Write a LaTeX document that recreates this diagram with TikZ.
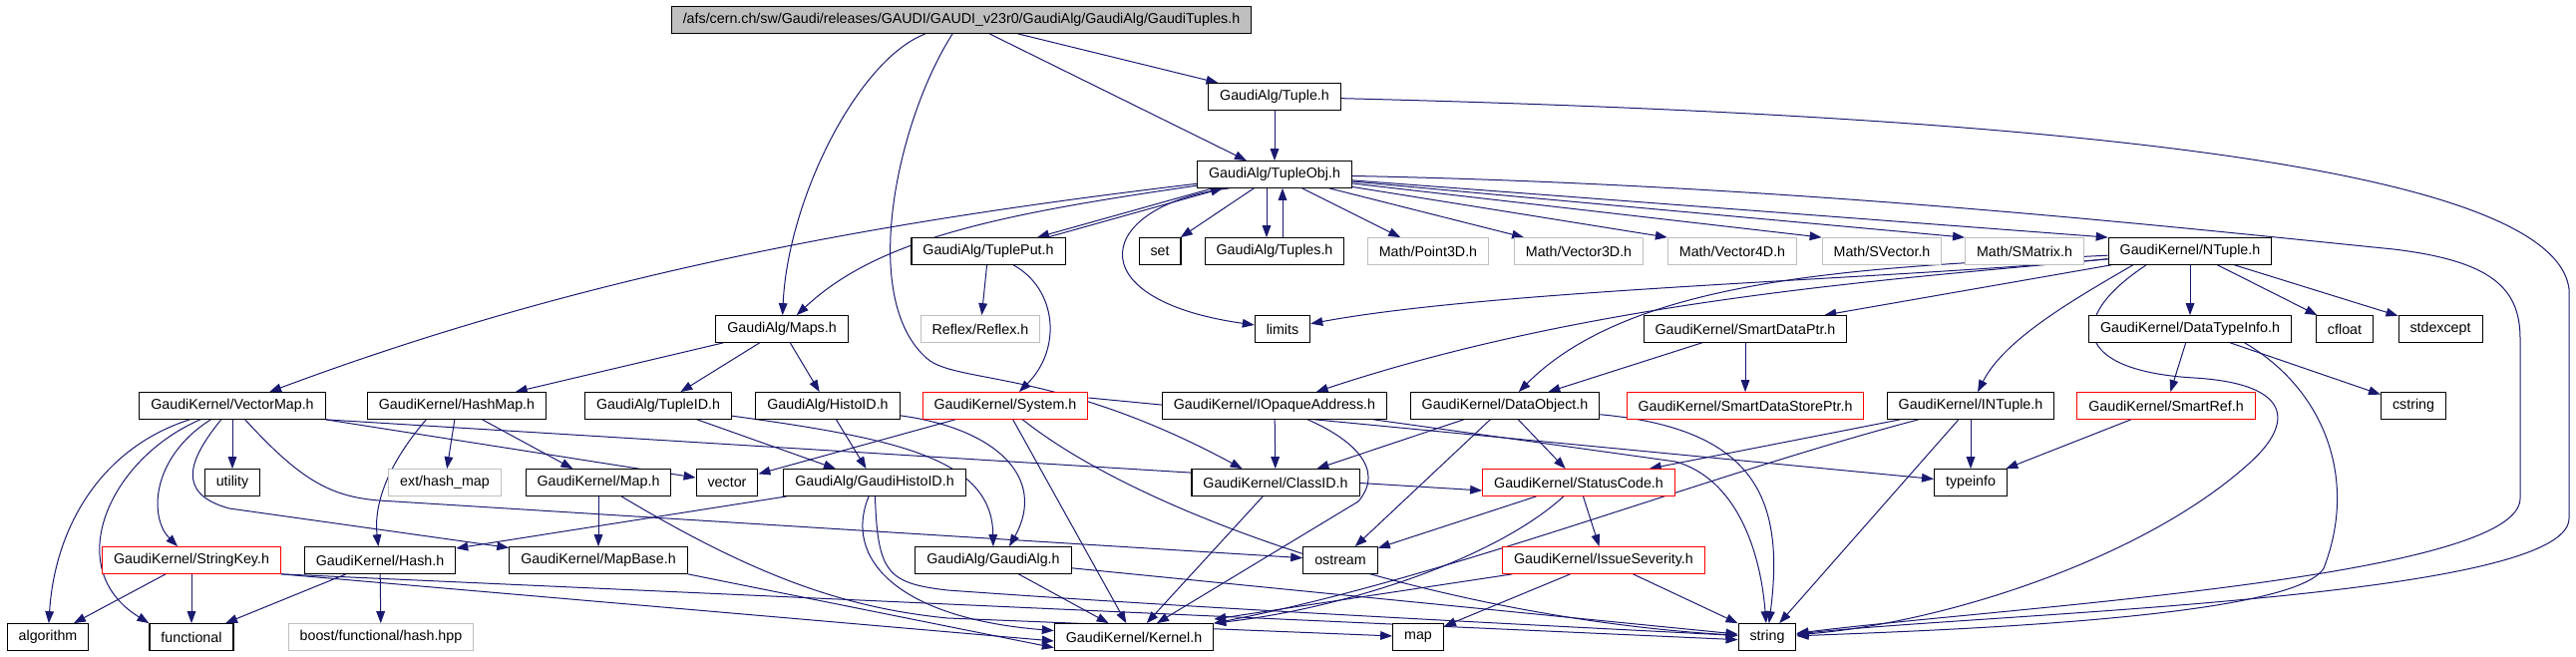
\documentclass[tikz,border=0pt]{standalone}
\usepackage{fontspec}
\setmainfont{Liberation Sans}
\usepackage{tikz}
\usetikzlibrary{arrows.meta}
\definecolor{edgeblue}{HTML}{191970}
\definecolor{extgray}{HTML}{BFBFBF}
\pgfdeclarelayer{edges}
\pgfsetlayers{edges,main}

\begin{document}
\begin{tikzpicture}[x=0.75pt,y=0.75pt,yscale=-1,
	inc/.style={draw=black,line width=0.8pt,fill=white,inner xsep=8.6pt,inner ysep=0pt,minimum height=20pt,font=\fontsize{10.7}{12}\selectfont},
	incred/.style={inc,draw=red},
	incext/.style={inc,draw=extgray},
	incroot/.style={inc,fill=extgray},
	edge/.style={draw=edgeblue,line width=0.75pt,-{Triangle[length=9pt,width=6.5pt]}}]
	%set diagram size: 2583 x 659
	\useasboundingbox (0,0) rectangle (2583,659);
	
	% Text Node
	\draw (964,20) node [incroot] (root) {/afs/cern.ch/sw/Gaudi/releases/GAUDI/GAUDI\_v23r0/GaudiAlg/GaudiAlg/GaudiTuples.h};
	% Text Node
	\draw (1278,97) node [inc] (tuple) {GaudiAlg/Tuple.h};
	% Text Node
	\draw (1278,175) node [inc] (tupleobj) {GaudiAlg/TupleObj.h};
	% Text Node
	\draw (991,252) node [inc] (tupleput) {GaudiAlg/TuplePut.h};
	% Text Node
	\draw (1163,252) node [inc] (set) {set};
	% Text Node
	\draw (1278,252) node [inc] (tuples) {GaudiAlg/Tuples.h};
	% Text Node
	\draw (1432,252) node [incext] (point3d) {Math/Point3D.h};
	% Text Node
	\draw (1583,252) node [incext] (vector3d) {Math/Vector3D.h};
	% Text Node
	\draw (1737,252) node [incext] (vector4d) {Math/Vector4D.h};
	% Text Node
	\draw (1887,252) node [incext] (svector) {Math/SVector.h};
	% Text Node
	\draw (2030,252) node [incext] (smatrix) {Math/SMatrix.h};
	% Text Node
	\draw (2196,252) node [inc] (ntuple) {GaudiKernel/NTuple.h};
	% Text Node
	\draw (784,330) node [inc] (maps) {GaudiAlg/Maps.h};
	% Text Node
	\draw (983,330) node [incext] (reflex) {Reflex/Reflex.h};
	% Text Node
	\draw (1286,330) node [inc] (limits) {limits};
	% Text Node
	\draw (1750,330) node [inc] (smartdataptr) {GaudiKernel/SmartDataPtr.h};
	% Text Node
	\draw (2196,330) node [inc] (datatypeinfo) {GaudiKernel/DataTypeInfo.h};
	% Text Node
	\draw (2351,330) node [inc] (cfloat) {cfloat};
	% Text Node
	\draw (2447,330) node [inc] (stdexcept) {stdexcept};
	% Text Node
	\draw (233,407) node [inc] (vectormap) {GaudiKernel/VectorMap.h};
	% Text Node
	\draw (458,407) node [inc] (hashmap) {GaudiKernel/HashMap.h};
	% Text Node
	\draw (660,407) node [inc] (tupleid) {GaudiAlg/TupleID.h};
	% Text Node
	\draw (830,407) node [inc] (histoid) {GaudiAlg/HistoID.h};
	% Text Node
	\draw (1008,407) node [incred] (system) {GaudiKernel/System.h};
	% Text Node
	\draw (1278,407) node [inc] (iopaque) {GaudiKernel/IOpaqueAddress.h};
	% Text Node
	\draw (1509,407) node [inc] (dataobject) {GaudiKernel/DataObject.h};
	% Text Node
	\draw (1750,407) node [incred] (smartdatastoreptr) {GaudiKernel/SmartDataStorePtr.h};
	% Text Node
	\draw (1976,407) node [inc] (intuple) {GaudiKernel/INTuple.h};
	% Text Node
	\draw (2172,407) node [incred] (smartref) {GaudiKernel/SmartRef.h};
	% Text Node
	\draw (2420,407) node [inc] (cstring) {cstring};
	% Text Node
	\draw (233,484) node [inc] (utility) {utility};
	% Text Node
	\draw (446,484) node [incext] (hashmapext) {ext/hash\_map};
	% Text Node
	\draw (600,484) node [inc] (map) {GaudiKernel/Map.h};
	% Text Node
	\draw (729,484) node [inc] (vector) {vector};
	% Text Node
	\draw (877,484) node [inc] (gaudihistoid) {GaudiAlg/GaudiHistoID.h};
	% Text Node
	\draw (1279,484) node [inc] (classid) {GaudiKernel/ClassID.h};
	% Text Node
	\draw (1583,484) node [incred] (statuscode) {GaudiKernel/StatusCode.h};
	% Text Node
	\draw (1976,484) node [inc] (typeinfo) {typeinfo};
	% Text Node
	\draw (192,562) node [incred] (stringkey) {GaudiKernel/StringKey.h};
	% Text Node
	\draw (381,562) node [inc] (hash) {GaudiKernel/Hash.h};
	% Text Node
	\draw (600,562) node [inc] (mapbase) {GaudiKernel/MapBase.h};
	% Text Node
	\draw (996,562) node [inc] (gaudialg) {GaudiAlg/GaudiAlg.h};
	% Text Node
	\draw (1344,562) node [inc] (ostream) {ostream};
	% Text Node
	\draw (1608,562) node [incred] (issueseverity) {GaudiKernel/IssueSeverity.h};
	% Text Node
	\draw (48,639) node [inc] (algorithm) {algorithm};
	% Text Node
	\draw (192,639) node [inc] (functional) {functional};
	% Text Node
	\draw (382,639) node [incext] (boosthash) {boost/functional/hash.hpp};
	% Text Node
	\draw (1137,639) node [inc] (kernel) {GaudiKernel/Kernel.h};
	% Text Node
	\draw (1422,639) node [inc] (stdmap) {map};
	% Text Node
	\draw (1772,639) node [inc] (string) {string};
	
	\begin{pgfonlayer}{edges}
	%Curve Lines
	\draw [edge] (root) .. controls (860,60) and (790,200) .. (maps);
	%Curve Lines
	\draw [edge] (root) .. controls (900,120) and (860,300) .. (930,360) .. controls (960,385) and (1060,370) .. ([xshift=-25pt]classid.north);
	%Straight Lines
	\draw [edge] (root) -- (tupleobj);
	%Straight Lines
	\draw [edge] (root) -- (tuple);
	%Straight Lines
	\draw [edge] (tuple) -- (tupleobj);
	%Curve Lines
	\draw [edge] (tuple) .. controls (2000,115) and (2560,160) .. (2576,290) -- (2576,520) .. controls (2576,600) and (2000,615) .. (string);
	%Curve Lines
	\draw [edge] (tupleobj) .. controls (1800,185) and (2200,230) .. (2400,250) .. controls (2500,262) and (2527,290) .. (2527,340) -- (2527,500) .. controls (2527,580) and (2000,610) .. (string);
	%Straight Lines
	\draw [edge] ([xshift=12pt]tupleobj.south west) -- ([xshift=36.75pt]tupleput.north);
	%Straight Lines
	\draw [edge] ([xshift=44.25pt]tupleput.north) -- ([xshift=19.5pt]tupleobj.south west);
	%Straight Lines
	\draw [edge] (tupleobj) -- (set);
	%Straight Lines
	\draw [edge] ([xshift=-6pt]tupleobj.south) -- ([xshift=-6pt]tuples.north);
	%Straight Lines
	\draw [edge] ([xshift=6pt]tuples.north) -- ([xshift=6pt]tupleobj.south);
	%Straight Lines
	\draw [edge] (tupleobj) -- (point3d);
	%Straight Lines
	\draw [edge] (tupleobj) -- (vector3d);
	%Straight Lines
	\draw [edge] (tupleobj) -- (vector4d.north west);
	%Straight Lines
	\draw [edge] (tupleobj) -- (svector.north west);
	%Straight Lines
	\draw [edge] (tupleobj) -- (smatrix.north west);
	%Straight Lines
	\draw [edge] (tupleobj) -- (ntuple.north west);
	%Curve Lines
	\draw [edge] ([xshift=-34pt]tupleobj.south) .. controls (1100,205) and (1075,300) .. (limits);
	%Curve Lines
	\draw [edge] (tupleobj) .. controls (1000,215) and (880,240) .. (maps);
	%Curve Lines
	\draw [edge] (tupleobj) .. controls (900,220) and (600,270) .. (vectormap);
	
	%Straight Lines
	\draw [edge] (tupleput) -- (reflex);
	%Curve Lines
	\draw [edge] (tupleput) .. controls (1060,290) and (1065,350) .. (system);
	
	%Curve Lines
	\draw [edge] (ntuple) .. controls (1900,280) and (1500,290) .. (limits);
	%Curve Lines
	\draw [edge] (ntuple) .. controls (1900,280) and (1600,300) .. (iopaque);
	%Curve Lines
	\draw [edge] (ntuple) .. controls (1880,268) and (1640,275) .. (dataobject);
	%Straight Lines
	\draw [edge] (ntuple) -- (smartdataptr);
	%Curve Lines
	\draw [edge] ([xshift=-43pt]ntuple.south) .. controls (2080,300) and (2010,340) .. (intuple);
	%Curve Lines
	\draw [edge] ([xshift=-33pt]ntuple.south) .. controls (2070,320) and (2080,372) .. (2200,379) .. controls (2300,385) and (2300,425) .. (2255,465) .. controls (2150,560) and (1950,625) .. (string);
	%Straight Lines
	\draw [edge] (ntuple) -- (datatypeinfo);
	%Straight Lines
	\draw [edge] (ntuple) -- (cfloat);
	%Straight Lines
	\draw [edge] (ntuple) -- (stdexcept);
	
	%Straight Lines
	\draw [edge] (smartdataptr) -- (dataobject);
	%Straight Lines
	\draw [edge] (smartdataptr) -- (smartdatastoreptr);
	%Straight Lines
	\draw [edge] (datatypeinfo) -- (smartref);
	%Straight Lines
	\draw [edge] (datatypeinfo) -- (cstring);
	%Curve Lines
	\draw [edge] ([xshift=41pt]datatypeinfo.south) .. controls (2330,390) and (2365,480) .. (2330,570) .. controls (2300,620) and (1950,632) .. (string);
	%Straight Lines
	\draw [edge] (smartref) -- (typeinfo);
	
	%Straight Lines
	\draw [edge] (intuple) -- (typeinfo);
	%Straight Lines
	\draw [edge] (intuple) -- (statuscode);
	%Straight Lines
	\draw [edge] (intuple) -- (string);
	%Curve Lines
	\draw [edge] (intuple) .. controls (1700,480) and (1450,580) .. (kernel.north east);
	
	%Straight Lines
	\draw [edge] (dataobject) -- (classid);
	%Straight Lines
	\draw [edge] (dataobject) -- (statuscode);
	%Straight Lines
	\draw [edge] (dataobject) -- (ostream);
	%Curve Lines
	\draw [edge] (dataobject) .. controls (1760,430) and (1790,500) .. (string);
	
	%Straight Lines
	\draw [edge] (iopaque) -- (classid);
	%Curve Lines
	\draw [edge] ([xshift=25pt]iopaque.south) .. controls (1355,440) and (1390,470) .. (1362,503) -- (kernel);
	%Curve Lines
	\draw [edge] (iopaque) -- (1680,463) .. controls (1740,480) and (1765,550) .. (string);
	
	%Straight Lines
	\draw [edge] (classid) -- (kernel);
	%Straight Lines
	\draw [edge] (statuscode) -- (ostream);
	%Straight Lines
	\draw [edge] (statuscode) -- (issueseverity);
	%Curve Lines
	\draw [edge] (statuscode) .. controls (1500,560) and (1350,610) .. (kernel.north east);
	%Straight Lines
	\draw [edge] (issueseverity) -- ([yshift=-3pt]kernel.north east);
	%Straight Lines
	\draw [edge] (issueseverity) -- (stdmap);
	%Straight Lines
	\draw [edge] (issueseverity) -- (string);
	
	%Straight Lines
	\draw [edge] (system) -- (vector);
	%Straight Lines
	\draw [edge] (system) -- (kernel);
	%Curve Lines
	\draw [edge] (system) .. controls (1150,520) and (1450,620) .. (string);
	%Straight Lines
	\draw [edge] ([yshift=-6pt]system.east) -- (typeinfo);
	
	%Straight Lines
	\draw [edge] (gaudialg) -- (kernel);
	%Straight Lines
	\draw [edge] (gaudialg) -- (string);
	%Straight Lines
	\draw [edge] (gaudihistoid) -- (hash);
	%Curve Lines
	\draw [edge] (gaudihistoid) .. controls (845,560) and (900,620) .. (kernel);
	%Curve Lines
	\draw [edge] (gaudihistoid) .. controls (880,575) and (890,585) .. (950,592) .. controls (1200,610) and (1500,625) .. (string);
	
	%Straight Lines
	\draw [edge] (tupleid) -- (gaudihistoid);
	%Curve Lines
	\draw [edge] (tupleid) .. controls (900,440) and (995,460) .. (gaudialg);
	%Straight Lines
	\draw [edge] (histoid) -- (gaudihistoid);
	%Curve Lines
	\draw [edge] (histoid) .. controls (1000,430) and (1050,480) .. ([xshift=12pt]gaudialg.north);
	
	%Straight Lines
	\draw [edge] (maps) -- (hashmap);
	%Straight Lines
	\draw [edge] (maps) -- (tupleid);
	%Straight Lines
	\draw [edge] (maps) -- (histoid);
	%Curve Lines
	\draw [edge] ([xshift=-23pt]hashmap.south) .. controls (385,470) and (375,510) .. (hash);
	%Straight Lines
	\draw [edge] (hashmap) -- (hashmapext);
	%Straight Lines
	\draw [edge] (hashmap) -- (map);
	
	%Curve Lines
	\draw [edge] (vectormap) .. controls (100,450) and (55,530) .. (algorithm);
	%Curve Lines
	\draw [edge] (vectormap) .. controls (110,460) and (60,570) .. (functional.north west);
	%Curve Lines
	\draw [edge] (vectormap) .. controls (150,460) and (150,520) .. (stringkey);
	%Curve Lines
	\draw [edge] (vectormap) .. controls (190,460) and (175,495) .. (230,510) -- (mapbase);
	%Straight Lines
	\draw [edge] (vectormap) -- (utility);
	%Curve Lines
	\draw [edge] (vectormap) .. controls (300,480) and (330,498) .. (380,502) -- (ostream);
	%Straight Lines
	\draw [edge] (vectormap.south east) -- (vector);
	%Straight Lines
	\draw [edge] (vectormap.south east) -- ([yshift=6pt]statuscode.west);
	
	%Straight Lines
	\draw [edge] (stringkey) -- (algorithm);
	%Straight Lines
	\draw [edge] (stringkey) -- (functional);
	%Straight Lines
	\draw [edge] (stringkey.south east) -- ([yshift=3pt]kernel.west);
	%Straight Lines
	\draw [edge] (stringkey.south east) -- ([yshift=2pt]string.west);
	%Straight Lines
	\draw [edge] (hash) -- (functional);
	%Straight Lines
	\draw [edge] (hash) -- (boosthash);
	%Straight Lines
	\draw [edge] (map) -- (mapbase);
	%Curve Lines
	\draw [edge] (map) .. controls (760,580) and (850,610) .. (950,620) -- (stdmap);
	%Straight Lines
	\draw [edge] (mapbase.south east) -- ([yshift=8pt]kernel.west);
	\end{pgfonlayer}
	
\end{tikzpicture}
\end{document}
